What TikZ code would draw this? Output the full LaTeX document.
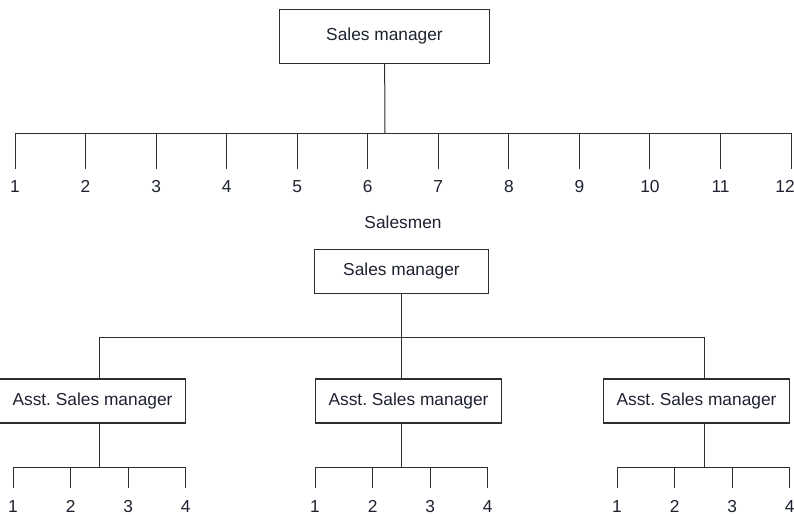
\documentclass[tikz,border=0pt]{standalone}
\usepackage{fontspec}
\setmainfont{Liberation Sans}
\usetikzlibrary{positioning}
\definecolor{chartline}{HTML}{2E2E2E}
\definecolor{charttext}{HTML}{1E2230}

\begin{document}
\begin{tikzpicture}[
  x=0.75pt, y=-0.75pt,
  font=\fontsize{13}{15}\selectfont,
  every node/.style = {text=charttext},
  box/.style  = {draw=chartline, line width=0.8pt, inner sep=0pt, align=center},
  mgr/.style  = {box, minimum width=158pt, minimum height=40pt},
  mgrb/.style = {box, minimum width=130pt, minimum height=32.5pt},
  asst/.style = {box, minimum width=140pt, minimum height=33pt},
  link/.style = {draw=chartline, line width=0.75pt},
  num/.style  = {inner sep=1pt, anchor=base},
]
\useasboundingbox (0,0) rectangle (794,515);

%% ---------------------------------------------------------------- flat chart
\node[mgr] (sm1) at (384.5,36.5) {Sales manager};
\coordinate (bus) at (385,133);
\draw[link] (sm1) -- (bus);

\foreach \i in {1,...,12} {
  \pgfmathsetmacro\tx{min(15+70.55*(\i-1),785)}
  \coordinate (st\i) at ({15+70.55*(\i-1)},169);
  \node[num] (sn\i) at (\tx,192) {\i};
  \draw[link] (st\i |- bus) -- (st\i);
}
\draw[link] (st1 |- bus) -- (st12 |- bus);
\node (salesmen) at (403,222) {Salesmen};

%% ---------------------------------------------------------------- with assistants
\node[mgrb] (sm2) at (401.5,271.5) {Sales manager};

\foreach \g/\bx/\lx in {1/92.5/99, 2/408.5/401, 3/696.5/704} {
  \node[asst] (a\g) at (\bx,401) {Asst.\ Sales manager};
  \coordinate (up\g) at (\lx,337);
  \coordinate (dn\g) at (\lx,467);
  \draw[link] (up\g) -- (up\g |- a\g.north);
  \draw[link] (dn\g |- a\g.south) -- (dn\g);
  \foreach \j in {1,...,4} {
    \pgfmathsetmacro\tx{13+302*(\g-1)+57.6*(\j-1)}
    \coordinate (at\g\j) at (\tx,488);
    \node[num] (an\g\j) at (\tx,512.5) {\j};
    \draw[link] (at\g\j |- dn\g) -- (at\g\j);
  }
  \draw[link] (at\g1 |- dn\g) -- (at\g4 |- dn\g);
}
\draw[link] (sm2) -- (sm2 |- up2);
\draw[link] (up1) -- (up3);
\end{tikzpicture}
\end{document}
